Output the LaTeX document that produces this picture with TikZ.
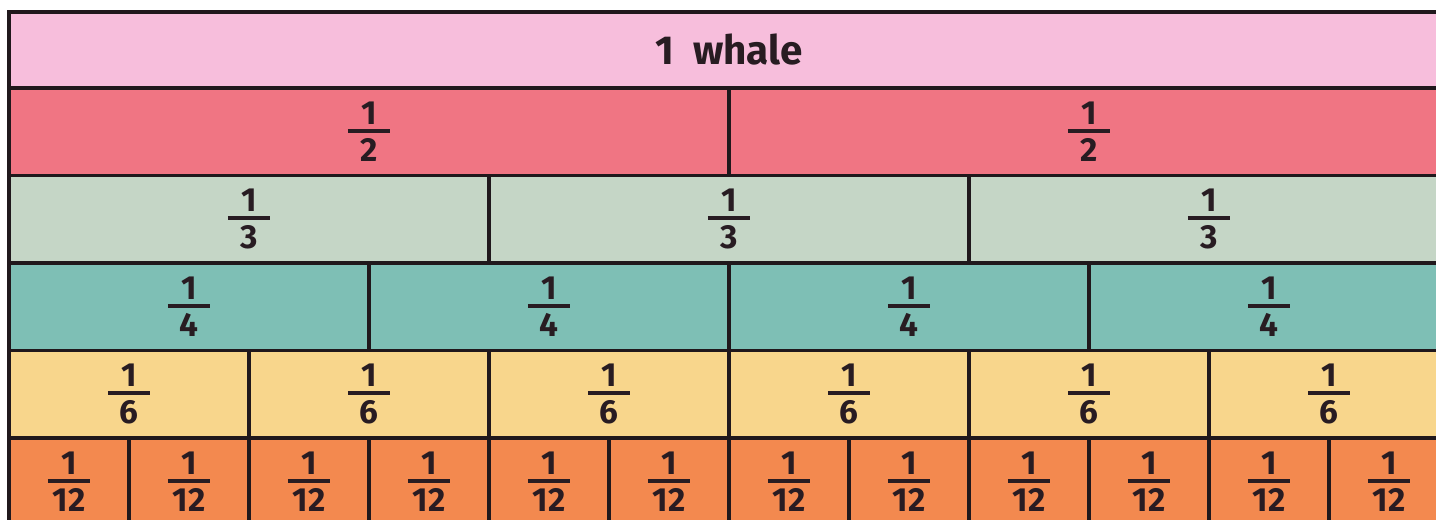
\documentclass[tikz,border=0pt]{standalone}
\usepackage{fontspec}
\setmainfont{Fira Sans}
\usepackage{xcolor}
\usepackage{tikz}
\definecolor{wholepink}{RGB}{247,190,220}
\definecolor{halfred}{RGB}{240,117,131}
\definecolor{thirdgreen}{RGB}{197,214,198}
\definecolor{quarterteal}{RGB}{126,191,181}
\definecolor{sixthyellow}{RGB}{248,214,140}
\definecolor{twelfthorange}{RGB}{243,137,79}
\definecolor{wallline}{RGB}{32,24,28}
\definecolor{inkdark}{RGB}{40,28,34}

% unit fraction: 1 over #1
\newcommand{\fr}[1]{\vbox{\hbox to 24pt{\hss 1\hss}\kern 2.5pt\hrule height 2.2pt\kern 3pt\hbox to 24pt{\hss #1\hss}}}

\begin{document}
\begin{tikzpicture}[
  x=0.02cm, y=-0.02cm,
  every node/.style={font=\fontsize{19}{22}\selectfont\bfseries, text=inkdark},
  cell/.style={draw=wallline, line width=1.9pt, inner sep=0pt, outer sep=0pt, minimum height=1.75cm},
  whole/.style={cell, fill=wholepink, minimum width=28.8cm, minimum height=1.52cm, font=\fontsize{23}{26}\selectfont\bfseries},
  half/.style={cell, fill=halfred, minimum width=14.4cm},
  third/.style={cell, fill=thirdgreen, minimum width=9.6cm},
  quarter/.style={cell, fill=quarterteal, minimum width=7.2cm},
  sixth/.style={cell, fill=sixthyellow, minimum width=4.8cm},
  twelfth/.style={cell, fill=twelfthorange, minimum width=2.4cm}
]

  \path[use as bounding box] (0,0) rectangle (1436,520);
  \fill[white] (0,0) rectangle (1436,520);
  \clip (0,0) rectangle (1436,520);

  % Whole
  \node[whole] (whole) at (729, 50) {1\ \ whale};

  % Halves
  \node[half] (h1) at (369, 131.75) {\fr{2}};
  \node[half] (h2) at (1089, 131.75) {\fr{2}};

  % Thirds
  \node[third] (t1) at (249, 219.25) {\fr{3}};
  \node[third] (t2) at (729, 219.25) {\fr{3}};
  \node[third] (t3) at (1209, 219.25) {\fr{3}};

  % Quarters
  \node[quarter] (q1) at (189, 306.75) {\fr{4}};
  \node[quarter] (q2) at (549, 306.75) {\fr{4}};
  \node[quarter] (q3) at (909, 306.75) {\fr{4}};
  \node[quarter] (q4) at (1269, 306.75) {\fr{4}};

  % Sixths
  \node[sixth] (s1) at (129, 394.25) {\fr{6}};
  \node[sixth] (s2) at (369, 394.25) {\fr{6}};
  \node[sixth] (s3) at (609, 394.25) {\fr{6}};
  \node[sixth] (s4) at (849, 394.25) {\fr{6}};
  \node[sixth] (s5) at (1089, 394.25) {\fr{6}};
  \node[sixth] (s6) at (1329, 394.25) {\fr{6}};

  % Twelfths
  \node[twelfth] (tw1) at (69, 481.75) {\fr{12}};
  \node[twelfth] (tw2) at (189, 481.75) {\fr{12}};
  \node[twelfth] (tw3) at (309, 481.75) {\fr{12}};
  \node[twelfth] (tw4) at (429, 481.75) {\fr{12}};
  \node[twelfth] (tw5) at (549, 481.75) {\fr{12}};
  \node[twelfth] (tw6) at (669, 481.75) {\fr{12}};
  \node[twelfth] (tw7) at (789, 481.75) {\fr{12}};
  \node[twelfth] (tw8) at (909, 481.75) {\fr{12}};
  \node[twelfth] (tw9) at (1029, 481.75) {\fr{12}};
  \node[twelfth] (tw10) at (1149, 481.75) {\fr{12}};
  \node[twelfth] (tw11) at (1269, 481.75) {\fr{12}};
  \node[twelfth] (tw12) at (1389, 481.75) {\fr{12}};

\end{tikzpicture}
\end{document}
